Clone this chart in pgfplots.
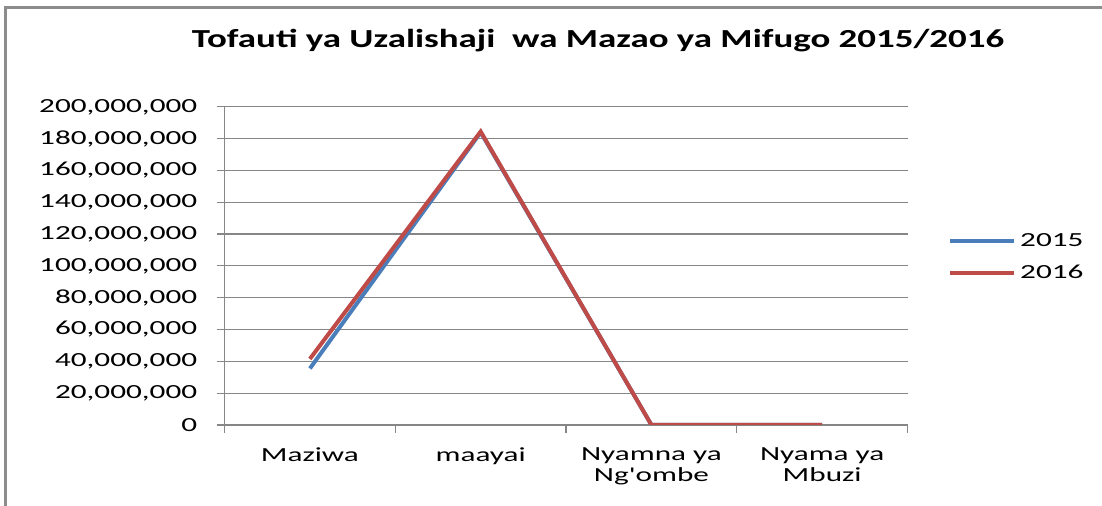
\documentclass[border=0pt]{standalone}
\usepackage{fontspec}
\setmainfont{Carlito}
\newfontfamily\tickfont[FakeStretch=1.56]{Carlito}
\newfontfamily\titlefont[FakeStretch=1.42]{Carlito}
\usepackage{pgfplots}
\pgfplotsset{compat=1.18}
\definecolor{s15}{RGB}{74,126,187}
\definecolor{s16}{RGB}{190,75,72}
\definecolor{gridc}{RGB}{134,134,134}
\definecolor{framec}{RGB}{140,140,140}
\begin{document}
\begin{tikzpicture}[x=1pt,y=1pt]
\draw[framec, line width=1.3pt] (2.75,-2) -- (2.75,249.2) -- (555,249.2);
\node[font=\titlefont\bfseries\fontsize{13}{15}\selectfont, anchor=base, inner sep=0pt] at (299,229) {Tofauti ya Uzalishaji\ \ wa Mazao ya Mifugo 2015/2016};
\begin{axis}[at={(131.5,51)}, anchor=south west, scale only axis,
 width=341.5pt, height=159pt,
 xmin=-0.5, xmax=3.5, ymin=0, ymax=200000000,
 xtick={-0.5,0.5,1.5,2.5,3.5}, x tick label as interval,
 xticklabels={Maziwa, maayai, {Nyamna ya\\Ng'ombe}, {Nyama ya\\Mbuzi}},
 xticklabel style={align=center, font=\tickfont\fontsize{10}{10.5}\selectfont, yshift=-4pt},
 ytick={0,20000000,...,200000000},
 scaled y ticks=false,
 yticklabel style={/pgf/number format/fixed, /pgf/number format/1000 sep={,}, font=\tickfont\fontsize{10}{12}\selectfont, inner sep=0pt, xshift=-9.5pt},
 /pgf/number format/assume math mode=true,
 axis x line*=bottom, axis y line*=left,
 axis line style={gridc, line width=0.6pt, -},
 tick align=outside, major tick length=4pt,
 tick style={gridc, line width=0.6pt},
 ymajorgrids, grid style={gridc, line width=0.6pt},
 legend style={at={(1.059,0.527)}, anchor=west, draw=none, fill=none, font=\tickfont\fontsize{10}{12}\selectfont, row sep=4pt, inner sep=0pt},
 legend cell align=left,
 legend image code/.code={\draw[#1, line width=2pt] (0pt,0pt) -- (32pt,0pt);},
]
\addplot[s15, line width=2pt] coordinates {(0,35500000) (1,184000000) (2,0) (3,0)};
\addlegendentry{2015}
\addplot[s16, line width=2pt] coordinates {(0,41500000) (1,184500000) (2,0) (3,0)};
\addlegendentry{2016}
\end{axis}
\pgfresetboundingbox
\path[use as bounding box] (0,0) rectangle (551,253);
\end{tikzpicture}
\end{document}
